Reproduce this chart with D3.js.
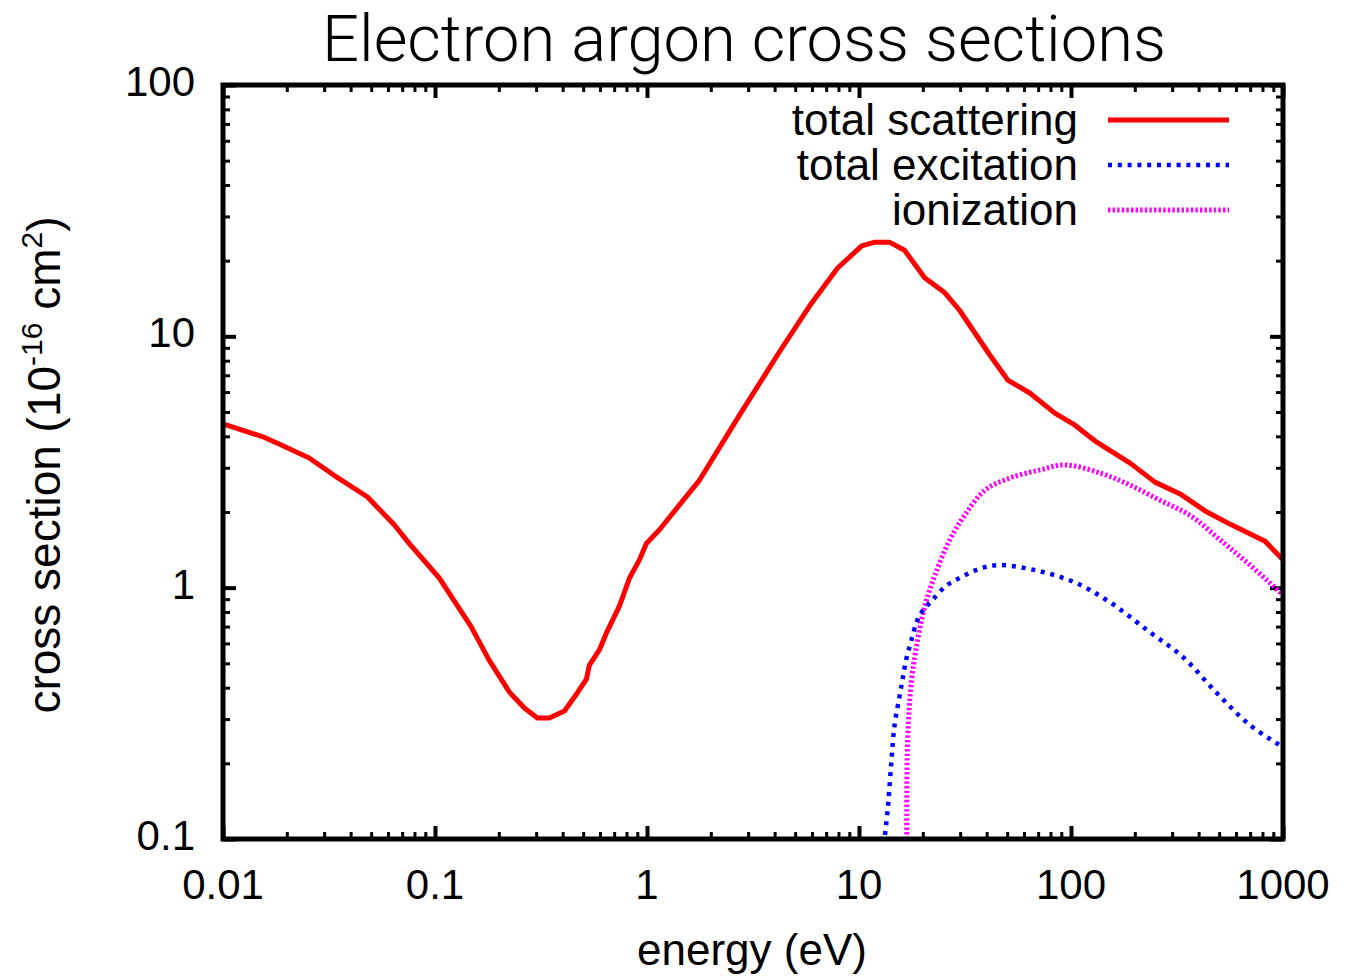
<!DOCTYPE html>
<html><head><meta charset="utf-8">
<script src="https://cdn.jsdelivr.net/npm/d3@7"></script>
<style>
body{margin:0;background:#fff;}
text{font-family:"Liberation Sans",Arial,Helvetica,sans-serif;fill:#000;}
</style></head>
<body><svg id="c" width="1345" height="978"></svg>
<script>
// ---- data ----
const scatE = [0.01,0.0156,0.0184,0.0255,0.0334,0.0479,0.0642,0.0755,0.105,0.148,0.18,0.224,0.264,0.304,0.346,0.408,0.469,0.518,0.535,0.596,0.643,0.741,0.826,0.921,0.993,1.145,1.42,1.77,2.73,4.21,5.84,7.93,10.3,11.9,13.9,16.4,20.4,25.4,29.8,41.4,50.3,63.9,83.9,104,130,190,249,327,429,562,823,1000];
const scatS = [4.48,3.97,3.73,3.28,2.80,2.30,1.78,1.50,1.09,0.70,0.515,0.385,0.332,0.303,0.303,0.323,0.381,0.433,0.492,0.565,0.659,0.845,1.09,1.29,1.50,1.70,2.13,2.68,4.86,8.66,13.2,18.7,22.9,23.7,23.7,22.0,17.1,14.9,12.7,8.43,6.70,5.95,4.95,4.44,3.83,3.13,2.63,2.36,2.02,1.79,1.53,1.29];
const excE = [13.1,13.69,14.21,14.73,15.55,16.12,16.72,17.66,18.65,19.48,20.92,22.33,25.8,30.95,37.1,45.6,69.0,104,152,235,337,487,698,1000];
const excS = [0.095,0.134,0.203,0.286,0.371,0.441,0.521,0.617,0.725,0.785,0.847,0.898,1.018,1.11,1.19,1.23,1.17,1.05,0.877,0.666,0.53,0.381,0.284,0.232];
const ionE = [16.8,16.96,17.7,18.9,20.4,22.8,26.8,31.5,39.2,51.4,71.3,93.5,137,190,262,364,505,699,1000];
const ionS = [0.1,0.248,0.429,0.619,0.837,1.12,1.55,1.94,2.44,2.73,2.94,3.08,2.86,2.56,2.23,1.94,1.55,1.23,0.935];
const xTicks = [0.01,0.1,1,10,100,1000];
const xTickLabels = ["0.01","0.1","1","10","100","1000"];
const yTicks = [0.1,1,10,100];
const yTickLabels = ["0.1","1","10","100"];
const seriesNames = ["total scattering","total excitation","ionization"];

// ---- layout ----
const L=223, R=1283, T=85, B=839;
const svg = d3.select("#c");
const x = d3.scaleLog().domain([0.01,1000]).range([L,R]);
const y = d3.scaleLog().domain([0.1,100]).range([B,T]);

function minors(dom){
  const out=[]; let lo=Math.log10(dom[0]), hi=Math.log10(dom[1]);
  for(let e=Math.round(lo); e<Math.round(hi); e++) for(let k=2;k<=9;k++) out.push(k*Math.pow(10,e));
  return out;
}
const xMin = minors(x.domain()), yMin = minors(y.domain());

function tickGroup(axisFn, scale, vals, size, sw, tx, ty){
  const g = svg.append("g").attr("transform",`translate(${tx},${ty})`)
    .call(axisFn(scale).tickValues(vals).tickSize(-size).tickFormat(""));
  g.select(".domain").remove();
  g.selectAll(".tick line").attr("stroke","#000").attr("stroke-width",sw);
  return g;
}
// major and minor ticks on all four sides (inward)
tickGroup(d3.axisBottom, x, xTicks, 13, 4, 0, B);
tickGroup(d3.axisBottom, x, xMin, 7, 3, 0, B);
tickGroup(d3.axisTop, x, xTicks, 13, 4, 0, T);
tickGroup(d3.axisTop, x, xMin, 7, 3, 0, T);
tickGroup(d3.axisLeft, y, yTicks, 13, 4, L, 0);
tickGroup(d3.axisLeft, y, yMin, 7, 3, L, 0);
tickGroup(d3.axisRight, y, yTicks, 13, 4, R, 0);
tickGroup(d3.axisRight, y, yMin, 7, 3, R, 0);

// tick labels
svg.append("g").selectAll("text").data(xTicks).join("text")
  .attr("x",d=>x(d)).attr("y",899).attr("text-anchor","middle")
  .attr("font-size",42).text((d,i)=>xTickLabels[i]);
svg.append("g").selectAll("text").data(yTicks).join("text")
  .attr("x",195).attr("y",d=>y(d)+11).attr("text-anchor","end")
  .attr("font-size",42).text((d,i)=>yTickLabels[i]);

// clip
svg.append("clipPath").attr("id","clip").append("rect")
  .attr("x",L).attr("y",T).attr("width",R-L).attr("height",B-T);

const lineLin = d3.line().x(d=>x(d[0])).y(d=>y(d[1]));
const lineSm = d3.line().x(d=>x(d[0])).y(d=>y(d[1])).curve(d3.curveCatmullRom.alpha(0.5));
const pg = svg.append("g").attr("clip-path","url(#clip)");

const styles = [
  {color:"#ff0000", dash:null, w:5},
  {color:"#0000ff", dash:"4,5.8", w:4.5},
  {color:"#ff00ff", dash:"2.4,2.2", w:5}
];
pg.append("path").datum(ionE.map((e,i)=>[e,ionS[i]])).attr("d",lineSm)
  .attr("fill","none").attr("stroke",styles[2].color).attr("stroke-width",styles[2].w).attr("stroke-dasharray",styles[2].dash);
pg.append("path").datum(excE.map((e,i)=>[e,excS[i]])).attr("d",lineSm)
  .attr("fill","none").attr("stroke",styles[1].color).attr("stroke-width",styles[1].w).attr("stroke-dasharray",styles[1].dash);
pg.append("path").datum(scatE.map((e,i)=>[e,scatS[i]])).attr("d",lineLin)
  .attr("fill","none").attr("stroke",styles[0].color).attr("stroke-width",styles[0].w).attr("stroke-linejoin","round");

// frame
svg.append("rect").attr("x",L).attr("y",T).attr("width",R-L).attr("height",B-T)
  .attr("fill","none").attr("stroke","#000").attr("stroke-width",5);

// legend
const lg = svg.append("g");
seriesNames.forEach((n,i)=>{
  const yy = 120 + i*45;
  lg.append("text").attr("x",1078).attr("y",yy+15).attr("text-anchor","end").attr("font-size",44).text(n);
  lg.append("line").attr("x1",1108).attr("x2",1229).attr("y1",yy).attr("y2",yy)
    .attr("stroke",styles[i].color).attr("stroke-width",styles[i].w).attr("stroke-dasharray",styles[i].dash);
});

// title
svg.append("text").attr("x",744).attr("y",61).attr("text-anchor","middle")
  .attr("font-size",64).style("font-family","Roboto, 'Liberation Sans', sans-serif").attr("font-weight",300)
  .attr("textLength",844).attr("lengthAdjust","spacingAndGlyphs")
  .text("Electron argon cross sections");

// axis labels
svg.append("text").attr("x",752).attr("y",965).attr("text-anchor","middle").attr("font-size",44).text("energy (eV)");
const yl = svg.append("text").attr("transform","translate(60,465) rotate(-90)").attr("text-anchor","middle").attr("font-size",46);
yl.append("tspan").text("cross section (10");
yl.append("tspan").attr("font-size",30).attr("dy",-18).text("-16");
yl.append("tspan").attr("dy",18).text(" cm");
yl.append("tspan").attr("font-size",30).attr("dy",-18).text("2");
yl.append("tspan").attr("dy",18).text(")");
</script></body></html>
